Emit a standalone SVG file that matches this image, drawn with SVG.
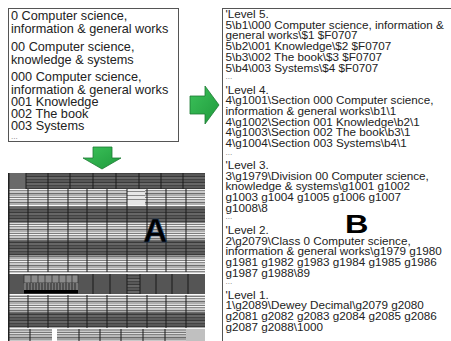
<svg xmlns="http://www.w3.org/2000/svg" width="451" height="341" viewBox="0 0 451 341">
<style>
.box{fill:#fff;stroke:#555;stroke-width:1}
.tl{font-family:"Liberation Sans",Arial,sans-serif;font-size:12.7px;fill:#222}
.tr{font-family:"Liberation Sans",Arial,sans-serif;font-size:11.7px;fill:#222}
.dots{font-family:"Liberation Sans",Arial,sans-serif;font-size:8px;fill:#777}
.big{font-family:"Liberation Sans",Arial,sans-serif;font-weight:bold;fill:#000}
.arrow{fill:url(#g);stroke:#1d7a32;stroke-width:0.8}
.div{stroke:#1a1a1a;stroke-width:1}
</style>
<defs>
<linearGradient id="g" x1="0" y1="0" x2="1" y2="1">
<stop offset="0" stop-color="#3cc25a"/>
<stop offset="1" stop-color="#1f9a3c"/>
</linearGradient>
<pattern id="lt" width="10" height="9" patternUnits="userSpaceOnUse">
<rect width="10" height="9" fill="#bdbdbd"/>
<rect y="0" width="10" height="1" fill="#f2f2f2"/>
<rect y="1" width="10" height="1" fill="#8a8a8a"/>
<rect y="2" width="10" height="2" fill="#cacaca"/>
<rect y="4" width="10" height="1" fill="#6e6e6e"/>
<rect y="5" width="10" height="2" fill="#aeaeae"/>
<rect y="7" width="10" height="1" fill="#dcdcdc"/>
<rect y="8" width="10" height="1" fill="#7c7c7c"/>
</pattern>
<pattern id="dk" width="10" height="6" patternUnits="userSpaceOnUse">
<rect width="10" height="6" fill="#585858"/>
<rect y="2" width="10" height="1" fill="#3a3a3a"/>
<rect y="3" width="10" height="2" fill="#676767"/>
<rect y="5" width="10" height="1" fill="#444"/>
</pattern>
</defs>

<g id="source-box">
<rect class="box" x="8.5" y="8.5" width="170" height="133"/>
<text class="tl" x="11" y="20">0 Computer science,</text>
<text class="tl" x="11" y="32.5">information &amp; general works</text>
<text class="tl" x="11" y="51">00 Computer science,</text>
<text class="tl" x="11" y="63.5">knowledge &amp; systems</text>
<text class="tl" x="11" y="81">000 Computer science,</text>
<text class="tl" x="11" y="93.5">information &amp; general works</text>
<text class="tl" x="11" y="105.5">001 Knowledge</text>
<text class="tl" x="11" y="117.5">002 The book</text>
<text class="tl" x="11" y="129.5">003 Systems</text>
<text class="dots" x="11" y="139">...</text>
</g>

<g id="record-box">
<rect class="box" x="222.5" y="8.5" width="240" height="345"/>
<text class="tr" x="225.5" y="18">'Level 5.</text>
<text class="tr" x="225.5" y="28.7">5\b1\000 Computer science, information &amp;</text>
<text class="tr" x="225.5" y="39.4">general works\$1  $F0707</text>
<text class="tr" x="225.5" y="50.1">5\b2\001 Knowledge\$2  $F0707</text>
<text class="tr" x="225.5" y="60.8">5\b3\002 The book\$3  $F0707</text>
<text class="tr" x="225.5" y="71.5">5\b4\003 Systems\$4  $F0707</text>
<text class="dots" x="225.5" y="79">...</text>
<text class="tr" x="225.5" y="93.5">'Level 4.</text>
<text class="tr" x="225.5" y="104.2">4\g1001\Section 000 Computer science,</text>
<text class="tr" x="225.5" y="114.9">information &amp; general works\b1\1</text>
<text class="tr" x="225.5" y="125.6">4\g1002\Section 001 Knowledge\b2\1</text>
<text class="tr" x="225.5" y="136.3">4\g1003\Section 002 The book\b3\1</text>
<text class="tr" x="225.5" y="147">4\g1004\Section 003 Systems\b4\1</text>
<text class="dots" x="225.5" y="154.5">...</text>
<text class="tr" x="225.5" y="169">'Level 3.</text>
<text class="tr" x="225.5" y="179.7">3\g1979\Division 00 Computer science,</text>
<text class="tr" x="225.5" y="190.4">knowledge &amp; systems\g1001 g1002</text>
<text class="tr" x="225.5" y="201.1">g1003 g1004 g1005 g1006 g1007</text>
<text class="tr" x="225.5" y="211.8">g1008\8</text>
<text class="dots" x="225.5" y="219.3">...</text>
<text class="tr" x="225.5" y="233.8">'Level 2.</text>
<text class="tr" x="225.5" y="244.5">2\g2079\Class 0 Computer science,</text>
<text class="tr" x="225.5" y="255.2">information &amp; general works\g1979 g1980</text>
<text class="tr" x="225.5" y="265.9">g1981 g1982 g1983 g1984 g1985 g1986</text>
<text class="tr" x="225.5" y="276.6">g1987 g1988\89</text>
<text class="dots" x="225.5" y="284.1">...</text>
<text class="tr" x="225.5" y="298.6">'Level 1.</text>
<text class="tr" x="225.5" y="309.3">1\g2089\Dewey Decimal\g2079 g2080</text>
<text class="tr" x="225.5" y="320">g2081 g2082 g2083 g2084 g2085 g2086</text>
<text class="tr" x="225.5" y="330.7">g2087 g2088\1000</text>
<text class="big" font-size="26" transform="translate(345,233) scale(1.25,1)">B</text>
</g>

<g id="shelf-photo">
<rect x="8" y="173" width="197" height="168" fill="#5a5a5a"/>
<rect x="8" y="173" width="197" height="16" fill="url(#dk)"/>
<rect x="8" y="173" width="18" height="16" fill="#6a6a6a"/>
<rect x="8" y="189" width="197" height="16" fill="url(#lt)"/>
<rect x="127" y="189" width="18" height="16" fill="#e6e6e6"/>
<rect x="127" y="191" width="18" height="1" fill="#888"/>
<rect x="127" y="195" width="18" height="1" fill="#888"/>
<rect x="127" y="199" width="18" height="1" fill="#888"/>
<rect x="8" y="205" width="197" height="1.5" fill="#fafafa"/>
<rect x="8" y="206.5" width="197" height="16" fill="url(#dk)"/>
<rect x="8" y="222.5" width="197" height="18" fill="url(#lt)"/>
<rect x="8" y="240.5" width="197" height="15" fill="url(#dk)"/>
<rect x="8" y="255.5" width="197" height="17" fill="url(#lt)"/>
<rect x="8" y="272.5" width="197" height="1.5" fill="#fafafa"/>
<rect x="8" y="274" width="197" height="20" fill="#555"/>
<rect x="127" y="274" width="13" height="20" fill="url(#dk)"/>
<rect x="24" y="275" width="54" height="8" fill="#8a8a8a" stroke="#333" stroke-width="0.8"/>
<path d="M31 275v8M38 275v8M45 275v8M52 275v8M59 275v8M66 275v8M72 275v8" stroke="#333" stroke-width="0.8"/>
<rect x="24" y="283" width="54" height="7" fill="#777"/>
<path d="M27 283v7M30 283v7M33 283v7M36 283v7M39 283v7M42 283v7M45 283v7M48 283v7M51 283v7M54 283v7M57 283v7M60 283v7M63 283v7M66 283v7M69 283v7M72 283v7M75 283v7" stroke="#2a2a2a" stroke-width="1"/>
<rect x="24" y="290" width="54" height="3.5" fill="#000"/>
<rect x="8" y="294" width="197" height="1.5" fill="#fafafa"/>
<rect x="8" y="295.5" width="197" height="17" fill="url(#lt)"/>
<rect x="8" y="312.5" width="197" height="15" fill="url(#dk)"/>
<rect x="8" y="327.5" width="197" height="1.5" fill="#f4f4f4"/>
<rect x="8" y="329" width="197" height="12" fill="url(#lt)" opacity="0.85"/>
<rect x="186" y="329" width="19" height="12" fill="#c0c0c0"/>
<rect x="52" y="329" width="5" height="12" fill="#fff"/>
<path class="div" d="M26 173v16M48 173v16M70 173v16M93 173v16M116 173v16M139 173v16M161 173v16M183 173v16"/>
<path class="div" d="M28 189v83M48 189v83M68 189v83M87 189v83M107 189v83M127 189v83M147 189v83M166 189v83M186 189v83"/>
<path class="div" d="M93 274v20M110 274v20M127 274v20M140 274v20M156 274v20M172 274v20M188 274v20"/>
<path class="div" d="M28 295v33M48 295v33M68 295v33M87 295v33M107 295v33M127 295v33M147 295v33M166 295v33M186 295v33"/>
<path class="div" d="M30 329v12M79 329v12M100 329v12M121 329v12M143 329v12M165 329v12"/>
<rect x="8" y="173" width="1.5" height="168" fill="#222"/>
<text class="big" x="143" y="242" font-size="34" stroke="#24476e" stroke-width="0.6">A</text>
</g>

<g id="connectors">
<polygon class="arrow" points="190,96 205,96 205,86 219,105 205,124 205,114 190,114"/>
<polygon class="arrow" points="93,147 112,147 112,158 121,158 102,169 83,158 93,158"/>
</g>
</svg>
